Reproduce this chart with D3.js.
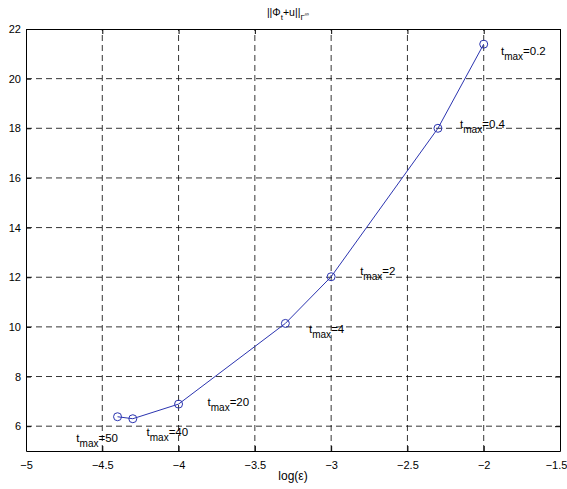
<!DOCTYPE html>
<html><head><meta charset="utf-8">
<script src="https://cdn.jsdelivr.net/npm/d3@7"></script>
<style>body{margin:0;background:#fff}svg{display:block}text{font-family:"Liberation Sans",Arial,sans-serif;fill:#000}</style>
</head><body>
<script>
const xVals = [-4.40, -4.30, -4.00, -3.30, -3.00, -2.30, -2.00];
const yVals = [6.38, 6.30, 6.89, 10.14, 12.02, 18.00, 21.39];
const labelTmax = ["50", "40", "20", "4", "2", "0.4", "0.2"];
const labelX = [-4.67, -4.21, -3.81, -3.145, -2.81, -2.155, -1.887];
const labelY = [5.44, 5.67, 6.88, 9.85, 12.18, 18.1, 21.04];
const xTicks = [-5, -4.5, -4, -3.5, -3, -2.5, -2, -1.5];
const yTicks = [6, 8, 10, 12, 14, 16, 18, 20, 22];

const W = 567, H = 489;
const m = {l: 26, r: 7, t: 29, b: 38};
const svg = d3.select("body").append("svg").attr("width", W).attr("height", H);
const x = d3.scaleLinear().domain([-5, -1.5]).range([m.l, W - m.r]);
const y = d3.scaleLinear().domain([5, 22]).range([H - m.b, m.t]);
const fmt = v => String(v).replace("-", "\u2212");

// grid
const g = svg.append("g");
g.selectAll(".gx").data(xTicks.slice(1, -1)).join("line")
  .attr("x1", d => x(d)).attr("x2", d => x(d)).attr("y1", y(5)).attr("y2", y(22))
  .attr("stroke", "#000").attr("stroke-width", 0.8).attr("stroke-dasharray", "6,4");
g.selectAll(".gy").data(yTicks.slice(0, -1)).join("line")
  .attr("y1", d => y(d)).attr("y2", d => y(d)).attr("x1", x(-5)).attr("x2", x(-1.5))
  .attr("stroke", "#000").attr("stroke-width", 0.8).attr("stroke-dasharray", "6,4");

// axes
const ax = svg.append("g").attr("transform", `translate(0,${y(5)})`)
  .call(d3.axisBottom(x).tickValues(xTicks).tickFormat(fmt).tickSizeInner(-5).tickSizeOuter(0).tickPadding(10));
const ay = svg.append("g").attr("transform", `translate(${x(-5)},0)`)
  .call(d3.axisLeft(y).tickValues(yTicks).tickFormat(fmt).tickSizeInner(-5).tickSizeOuter(0).tickPadding(5));
const axT = svg.append("g").attr("transform", `translate(0,${y(22)})`)
  .call(d3.axisTop(x).tickValues(xTicks).tickFormat("").tickSizeInner(-5).tickSizeOuter(0));
const ayR = svg.append("g").attr("transform", `translate(${x(-1.5)},0)`)
  .call(d3.axisRight(y).tickValues(yTicks).tickFormat("").tickSizeInner(-5).tickSizeOuter(0));
[ax, ay, axT, ayR].forEach(a => {
  a.selectAll("text").style("font-size", "11px").attr("fill", "#000");
  a.select(".domain").attr("stroke", "#000").attr("stroke-width", 1);
  a.selectAll(".tick line").attr("stroke", "#000");
});
ax.selectAll(".tick text").filter(d => d === -1.5).attr("dx", -4);

// line
svg.append("path").datum(xVals.map((v, i) => [v, yVals[i]]))
  .attr("d", d3.line().x(d => x(d[0])).y(d => y(d[1])))
  .attr("fill", "none").attr("stroke", "#2b34b0").attr("stroke-width", 1);
svg.selectAll(".pt").data(xVals).join("circle")
  .attr("cx", d => x(d)).attr("cy", (d, i) => y(yVals[i])).attr("r", 4)
  .attr("fill", "none").attr("stroke", "#2b34b0").attr("stroke-width", 1);

// labels
const lab = svg.selectAll(".lab").data(labelTmax).join("text")
  .attr("x", (d, i) => x(labelX[i])).attr("y", (d, i) => y(labelY[i]) + 2)
  .style("font-size", "11.5px");
lab.append("tspan").text("t");
lab.append("tspan").attr("dy", 5).style("font-size", "10px").text("max");
lab.append("tspan").attr("dy", -5).text(d => "=" + d);

// x label
const xl = svg.append("text").attr("x", 293).attr("y", 480).attr("text-anchor", "middle").style("font-size", "12px");
xl.append("tspan").text("log(\u03b5)");

// title
const t = svg.append("text").attr("x", 288).attr("y", 16).attr("text-anchor", "middle").style("font-size", "10.5px");
t.append("tspan").text("||\u03a6");
t.append("tspan").attr("dy", 4).style("font-size", "8px").text("t");
t.append("tspan").attr("dy", -4).text("+u||");
t.append("tspan").attr("dy", 4).style("font-size", "8px").text("\u0393");
t.append("tspan").attr("dy", -4).style("font-size", "6px").text("\u221e");
</script>
</body></html>
